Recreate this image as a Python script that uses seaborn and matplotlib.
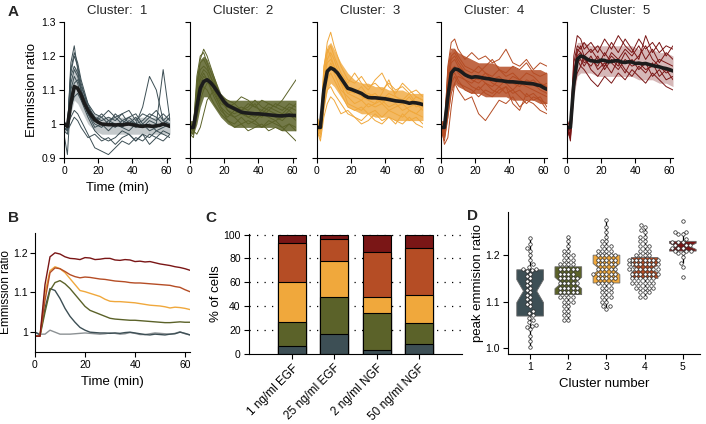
import numpy as np
import pandas as pd
import matplotlib
matplotlib.use('Agg')
import matplotlib.pyplot as plt
import seaborn as sns

# ---------------- data ----------------
cluster_names = ['1', '2', '3', '4', '5']
cluster_colors = ['#3d4f55', '#5b6229', '#f0a83c', '#b54d25', '#7a1616']

# single-cell traces (panel A), time in min
t_cell = [0, 2, 4, 6, 8, 10, 14, 18, 22, 26, 30, 34, 38, 42, 46, 50, 54, 58, 62]

c1_cells = [
    [0.99, 0.98, 1.18, 1.23, 1.16, 1.10, 1.04, 1.01, 1.02, 1.00, 1.03, 1.01, 1.02, 1.00, 1.01, 1.03, 1.02, 1.00, 1.02],
    [1.00, 0.99, 1.12, 1.16, 1.14, 1.10, 1.03, 1.00, 0.99, 1.01, 1.00, 0.99, 1.01, 1.00, 1.05, 1.14, 1.10, 1.01, 1.00],
    [0.98, 0.97, 1.05, 1.08, 1.09, 1.07, 1.02, 0.98, 0.96, 0.95, 0.96, 0.98, 0.97, 0.95, 0.97, 0.96, 0.98, 0.97, 0.96],
    [1.01, 0.99, 1.15, 1.20, 1.17, 1.12, 1.05, 1.02, 1.01, 1.02, 1.01, 1.03, 1.00, 1.02, 0.99, 1.01, 1.00, 1.16, 1.01],
    [0.99, 1.00, 1.02, 1.04, 1.03, 1.01, 0.97, 0.93, 0.92, 0.91, 0.93, 0.95, 0.94, 0.96, 0.95, 0.97, 0.96, 0.98, 0.97],
    [0.97, 0.91, 1.08, 1.12, 1.13, 1.10, 1.05, 1.02, 1.00, 1.00, 0.99, 1.01, 1.00, 0.99, 1.00, 0.98, 0.99, 1.00, 0.99],
    [1.00, 0.99, 1.14, 1.17, 1.15, 1.11, 1.06, 1.03, 1.02, 1.04, 1.02, 1.03, 1.04, 1.01, 1.03, 1.02, 1.04, 1.01, 1.03],
    [0.99, 0.98, 1.00, 1.02, 1.01, 0.99, 0.96, 0.97, 0.95, 0.96, 0.94, 0.96, 0.97, 0.95, 0.97, 0.94, 0.96, 0.95, 0.97],
    [1.00, 0.99, 1.10, 1.14, 1.12, 1.08, 1.03, 0.99, 1.00, 0.98, 1.00, 0.99, 0.98, 1.00, 0.99, 1.00, 0.98, 0.99, 1.00],
    [0.98, 0.99, 1.16, 1.21, 1.18, 1.13, 1.06, 1.01, 1.03, 1.01, 1.02, 1.00, 1.02, 1.03, 1.00, 1.02, 1.01, 1.03, 1.01],
]
c2_cells = [
    [0.99, 0.98, 1.10, 1.19, 1.22, 1.20, 1.14, 1.08, 1.06, 1.05, 1.04, 1.06, 1.05, 1.04, 1.06, 1.05, 1.04, 1.06, 1.05],
    [1.00, 0.99, 1.06, 1.12, 1.14, 1.13, 1.09, 1.05, 1.03, 1.02, 1.03, 1.02, 1.01, 1.03, 1.02, 1.01, 1.02, 1.03, 1.01],
    [0.98, 0.97, 1.02, 1.07, 1.10, 1.12, 1.12, 1.08, 1.04, 1.02, 1.00, 1.01, 1.00, 0.99, 1.01, 1.00, 0.99, 1.00, 0.98],
    [0.99, 0.99, 1.12, 1.18, 1.19, 1.17, 1.11, 1.06, 1.05, 1.06, 1.04, 1.05, 1.07, 1.05, 1.04, 1.06, 1.05, 1.04, 1.06],
    [1.01, 0.98, 0.97, 0.99, 1.03, 1.07, 1.10, 1.05, 1.01, 0.99, 1.00, 0.98, 0.99, 1.00, 0.98, 0.99, 0.98, 1.00, 0.99],
    [0.99, 1.00, 1.08, 1.14, 1.16, 1.15, 1.10, 1.07, 1.04, 1.03, 1.04, 1.02, 1.03, 1.02, 1.04, 1.03, 1.02, 1.04, 1.02],
    [0.97, 0.96, 1.04, 1.09, 1.11, 1.10, 1.06, 1.03, 1.01, 1.00, 1.02, 1.00, 1.01, 0.99, 1.00, 1.01, 0.99, 0.97, 0.95],
    [1.00, 0.99, 1.14, 1.20, 1.21, 1.18, 1.13, 1.08, 1.07, 1.06, 1.08, 1.07, 1.05, 1.07, 1.06, 1.05, 1.07, 1.10, 1.13],
    [0.99, 0.98, 1.07, 1.13, 1.15, 1.13, 1.08, 1.04, 1.02, 1.04, 1.03, 1.03, 1.02, 1.04, 1.03, 1.02, 1.01, 1.03, 1.02],
    [1.00, 0.98, 1.10, 1.16, 1.17, 1.16, 1.12, 1.07, 1.05, 1.04, 1.05, 1.04, 1.06, 1.03, 1.05, 1.04, 1.03, 1.05, 1.04],
]
c3_cells = [
    [0.99, 0.98, 1.16, 1.24, 1.27, 1.23, 1.17, 1.13, 1.12, 1.14, 1.11, 1.12, 1.10, 1.12, 1.10, 1.11, 1.09, 1.10, 1.08],
    [1.00, 0.98, 1.10, 1.16, 1.17, 1.15, 1.10, 1.08, 1.06, 1.07, 1.05, 1.06, 1.07, 1.05, 1.06, 1.04, 1.05, 1.06, 1.04],
    [0.98, 0.96, 1.05, 1.10, 1.11, 1.09, 1.06, 1.03, 1.02, 1.01, 1.03, 1.01, 1.00, 1.02, 1.01, 1.00, 1.02, 1.00, 0.99],
    [1.01, 0.99, 1.14, 1.21, 1.23, 1.20, 1.15, 1.12, 1.15, 1.12, 1.10, 1.13, 1.15, 1.11, 1.09, 1.12, 1.10, 1.08, 1.07],
    [0.99, 0.97, 1.08, 1.13, 1.15, 1.13, 1.09, 1.05, 1.04, 1.05, 1.03, 1.04, 1.02, 1.04, 1.03, 1.02, 1.04, 1.03, 1.02],
    [1.00, 0.99, 1.12, 1.19, 1.21, 1.19, 1.13, 1.09, 1.08, 1.07, 1.09, 1.08, 1.06, 1.08, 1.07, 1.06, 1.08, 1.05, 1.06],
    [0.98, 0.95, 1.02, 1.06, 1.08, 1.07, 1.03, 1.04, 1.02, 1.00, 1.01, 1.03, 1.01, 1.02, 1.00, 1.03, 1.01, 1.02, 1.00],
    [1.00, 0.98, 1.17, 1.22, 1.20, 1.17, 1.12, 1.10, 1.09, 1.11, 1.08, 1.09, 1.07, 1.09, 1.08, 1.07, 1.06, 1.08, 1.07],
    [0.99, 0.98, 1.09, 1.15, 1.18, 1.16, 1.12, 1.06, 1.05, 1.04, 1.06, 1.05, 1.06, 1.04, 1.05, 1.06, 1.04, 1.03, 1.05],
    [1.02, 1.00, 1.13, 1.18, 1.19, 1.17, 1.12, 1.09, 1.10, 1.08, 1.07, 1.06, 1.09, 1.13, 1.08, 1.07, 1.09, 1.06, 1.05],
]
c4_cells = [
    [0.99, 0.98, 1.17, 1.24, 1.25, 1.22, 1.19, 1.21, 1.19, 1.20, 1.18, 1.19, 1.22, 1.18, 1.17, 1.19, 1.16, 1.18, 1.17],
    [1.00, 0.97, 1.10, 1.16, 1.17, 1.15, 1.13, 1.12, 1.14, 1.12, 1.11, 1.13, 1.12, 1.10, 1.12, 1.11, 1.10, 1.09, 1.08],
    [0.98, 0.95, 1.02, 1.09, 1.12, 1.10, 1.07, 1.08, 1.03, 1.01, 1.04, 1.07, 1.06, 1.08, 1.05, 1.07, 1.06, 1.04, 1.03],
    [0.99, 0.99, 1.14, 1.20, 1.21, 1.19, 1.16, 1.15, 1.17, 1.15, 1.14, 1.16, 1.14, 1.15, 1.13, 1.15, 1.14, 1.12, 1.11],
    [1.00, 0.94, 0.96, 1.05, 1.12, 1.14, 1.13, 1.11, 1.10, 1.12, 1.10, 1.09, 1.11, 1.09, 1.10, 1.08, 1.09, 1.07, 1.06],
    [0.99, 0.98, 1.12, 1.18, 1.19, 1.17, 1.15, 1.14, 1.13, 1.15, 1.13, 1.14, 1.12, 1.14, 1.13, 1.12, 1.13, 1.11, 1.12],
    [0.98, 0.97, 1.08, 1.14, 1.15, 1.13, 1.10, 1.09, 1.11, 1.09, 1.08, 1.10, 1.11, 1.06, 1.04, 1.09, 1.07, 1.08, 1.05],
    [1.01, 0.99, 1.16, 1.22, 1.22, 1.20, 1.17, 1.16, 1.15, 1.17, 1.19, 1.16, 1.15, 1.17, 1.16, 1.18, 1.15, 1.14, 1.15],
    [0.99, 0.98, 1.13, 1.19, 1.20, 1.18, 1.15, 1.13, 1.12, 1.14, 1.12, 1.11, 1.13, 1.12, 1.11, 1.13, 1.12, 1.10, 1.09],
    [1.00, 0.96, 1.06, 1.12, 1.14, 1.12, 1.11, 1.10, 1.08, 1.10, 1.09, 1.11, 1.09, 1.10, 1.08, 1.06, 1.08, 1.07, 1.04],
]
c5_cells = [
    [0.99, 0.98, 1.20, 1.26, 1.25, 1.22, 1.24, 1.21, 1.25, 1.22, 1.26, 1.23, 1.21, 1.25, 1.22, 1.24, 1.21, 1.23, 1.22],
    [1.00, 0.96, 1.12, 1.18, 1.19, 1.17, 1.20, 1.16, 1.18, 1.15, 1.19, 1.16, 1.14, 1.17, 1.15, 1.18, 1.14, 1.16, 1.13],
    [0.98, 0.97, 1.15, 1.22, 1.21, 1.19, 1.17, 1.20, 1.16, 1.19, 1.17, 1.21, 1.18, 1.20, 1.23, 1.19, 1.17, 1.15, 1.16],
    [0.99, 0.95, 1.10, 1.15, 1.17, 1.16, 1.13, 1.11, 1.14, 1.12, 1.15, 1.13, 1.16, 1.14, 1.12, 1.15, 1.13, 1.11, 1.10],
    [1.01, 0.99, 1.18, 1.23, 1.22, 1.24, 1.21, 1.23, 1.20, 1.24, 1.21, 1.25, 1.22, 1.19, 1.26, 1.21, 1.24, 1.20, 1.23],
    [0.99, 0.97, 1.14, 1.20, 1.21, 1.18, 1.19, 1.17, 1.21, 1.18, 1.16, 1.19, 1.17, 1.18, 1.16, 1.17, 1.19, 1.18, 1.17],
    [1.00, 0.98, 1.16, 1.19, 1.17, 1.20, 1.16, 1.14, 1.17, 1.20, 1.18, 1.15, 1.19, 1.16, 1.18, 1.14, 1.16, 1.13, 1.14],
    [0.98, 0.96, 1.13, 1.21, 1.23, 1.20, 1.22, 1.19, 1.17, 1.21, 1.19, 1.22, 1.20, 1.23, 1.19, 1.22, 1.18, 1.21, 1.19],
]
all_cells = [c1_cells, c2_cells, c3_cells, c4_cells, c5_cells]

# envelope of the dense bundle of traces per cluster
band_lo = [
    [0.98, 0.97, 1.03, 1.07, 1.06, 1.04, 1.00, 0.98, 0.97, 0.97, 0.97, 0.97, 0.97, 0.97, 0.97, 0.97, 0.97, 0.97, 0.97],
    [0.97, 0.97, 1.00, 1.05, 1.08, 1.08, 1.05, 1.02, 1.00, 0.99, 0.99, 0.99, 0.99, 0.99, 0.99, 0.99, 0.98, 0.98, 0.98],
    [0.97, 0.97, 1.04, 1.10, 1.12, 1.11, 1.08, 1.05, 1.04, 1.03, 1.03, 1.02, 1.02, 1.02, 1.01, 1.01, 1.01, 1.01, 1.01],
    [0.97, 0.96, 1.02, 1.10, 1.12, 1.11, 1.10, 1.09, 1.09, 1.08, 1.08, 1.08, 1.08, 1.07, 1.07, 1.07, 1.07, 1.06, 1.06],
    [0.97, 0.96, 1.08, 1.14, 1.15, 1.15, 1.15, 1.14, 1.14, 1.14, 1.14, 1.14, 1.14, 1.13, 1.13, 1.13, 1.12, 1.12, 1.11],
]
band_hi = [
    [1.01, 1.00, 1.13, 1.17, 1.16, 1.12, 1.06, 1.03, 1.02, 1.02, 1.02, 1.02, 1.02, 1.02, 1.02, 1.02, 1.02, 1.02, 1.02],
    [1.01, 1.01, 1.15, 1.19, 1.20, 1.19, 1.14, 1.09, 1.07, 1.07, 1.07, 1.07, 1.07, 1.07, 1.07, 1.07, 1.07, 1.07, 1.07],
    [1.01, 1.01, 1.18, 1.23, 1.24, 1.22, 1.18, 1.15, 1.13, 1.12, 1.12, 1.11, 1.11, 1.10, 1.10, 1.10, 1.09, 1.09, 1.09],
    [1.01, 1.01, 1.18, 1.22, 1.22, 1.21, 1.20, 1.19, 1.18, 1.18, 1.18, 1.17, 1.17, 1.17, 1.16, 1.16, 1.16, 1.16, 1.15],
    [1.01, 1.01, 1.18, 1.24, 1.24, 1.24, 1.23, 1.23, 1.23, 1.23, 1.23, 1.23, 1.23, 1.22, 1.22, 1.22, 1.21, 1.21, 1.20],
]
band_alpha = [0.3, 0.85, 0.8, 0.85, 0.3]

# cluster mean traces (panel A thick line, panel B)
t_mean = list(range(0, 63, 2))
mean_c1 = [1.0, 0.993, 1.06, 1.11, 1.105, 1.085, 1.06, 1.04, 1.025, 1.012, 1.005, 1.0, 0.999, 0.998, 0.998, 0.997,
           0.998, 0.997, 0.999, 1.0, 0.998, 0.996, 0.994, 0.993, 0.995, 0.994, 0.993, 0.995, 0.996, 1.0, 0.997, 0.993]
mean_c2 = [0.99, 0.99, 1.05, 1.105, 1.125, 1.13, 1.122, 1.11, 1.095, 1.08, 1.065, 1.055, 1.05, 1.045, 1.04, 1.035,
           1.033, 1.032, 1.031, 1.03, 1.03, 1.029, 1.028, 1.027, 1.026, 1.025, 1.024, 1.024, 1.025, 1.026, 1.025, 1.025]
mean_c3 = [0.99, 0.99, 1.10, 1.155, 1.165, 1.16, 1.15, 1.135, 1.12, 1.105, 1.102, 1.098, 1.094, 1.09, 1.083, 1.078,
           1.077, 1.077, 1.076, 1.075, 1.074, 1.072, 1.07, 1.068, 1.067, 1.066, 1.064, 1.061, 1.063, 1.062, 1.06, 1.057]
mean_c4 = [0.99, 0.99, 1.08, 1.15, 1.162, 1.16, 1.153, 1.145, 1.14, 1.137, 1.139, 1.138, 1.136, 1.134, 1.133, 1.131,
           1.129, 1.128, 1.127, 1.125, 1.124, 1.124, 1.123, 1.122, 1.121, 1.12, 1.119, 1.118, 1.115, 1.113, 1.107, 1.102]
mean_c5 = [0.99, 0.99, 1.12, 1.19, 1.20, 1.197, 1.19, 1.186, 1.185, 1.183, 1.188, 1.187, 1.183, 1.184, 1.186, 1.186,
           1.182, 1.181, 1.183, 1.182, 1.178, 1.179, 1.177, 1.178, 1.175, 1.172, 1.17, 1.168, 1.165, 1.163, 1.16, 1.156]
mean_ctrl = [1.0, 0.995, 0.995, 1.005, 1.0, 0.995, 0.995, 0.995, 0.996, 0.997, 0.998, 0.997, 0.996, 0.995, 0.996, 0.998,
             0.997, 0.995, 0.996, 0.999, 0.997, 0.994, 0.994, 0.996, 0.998, 0.997, 0.996, 0.995, 0.997, 1.001, 0.996, 0.993]
all_means = [mean_c1, mean_c2, mean_c3, mean_c4, mean_c5]

# panel C: % of cells per cluster for each condition
conditions = ['1 ng/ml EGF', '25 ng/ml EGF', '2 ng/ml NGF', '50 ng/ml NGF']
pct_c1 = [6.5, 16.5, 3.5, 8.0]
pct_c2 = [20.0, 31.5, 30.5, 18.0]
pct_c3 = [33.5, 30.0, 14.0, 23.5]
pct_c4 = [33.0, 18.0, 37.5, 39.5]
pct_c5 = [7.0, 4.0, 14.5, 11.0]

# panel D: peak emission ratio per cell (value levels and number of cells at each level)
peak_levels_1 = [1.002, 1.015, 1.025, 1.04, 1.045, 1.048, 1.05, 1.055, 1.06, 1.065, 1.07, 1.075, 1.08, 1.09,
                 1.095, 1.10, 1.105, 1.11, 1.115, 1.12, 1.125, 1.13, 1.135, 1.14, 1.145, 1.15, 1.155, 1.16,
                 1.165, 1.168, 1.17, 1.175, 1.18, 1.19, 1.20, 1.21, 1.215, 1.225, 1.238]
peak_counts_1 = [1] * 30 + [2] + [1] * 8
peak_levels_2 = [1.06, 1.07, 1.08, 1.09, 1.10, 1.11, 1.12, 1.13, 1.14, 1.15, 1.16, 1.17, 1.18, 1.19, 1.20,
                 1.21, 1.22, 1.23, 1.24]
peak_counts_2 = [2, 2, 2, 2, 3, 4, 5, 5, 5, 5, 4, 5, 4, 3, 3, 2, 1, 1, 1]
peak_levels_3 = [1.085, 1.09, 1.10, 1.11, 1.12, 1.13, 1.14, 1.15, 1.16, 1.17, 1.18, 1.19, 1.20, 1.21, 1.22,
                 1.23, 1.24, 1.25, 1.26, 1.275]
peak_counts_3 = [1, 2, 2, 3, 3, 3, 4, 5, 6, 5, 5, 5, 5, 4, 3, 2, 1, 1, 1, 1]
peak_levels_4 = [1.11, 1.12, 1.13, 1.14, 1.15, 1.16, 1.17, 1.18, 1.19, 1.20, 1.21, 1.22, 1.23, 1.24, 1.25,
                 1.255, 1.26, 1.265]
peak_counts_4 = [2, 3, 5, 6, 6, 7, 8, 8, 8, 4, 3, 3, 2, 2, 1, 1, 1, 1]
peak_levels_5 = [1.153, 1.175, 1.183, 1.196, 1.205, 1.21, 1.216, 1.222, 1.228, 1.235, 1.245, 1.25, 1.273]
peak_counts_5 = [1, 1, 1, 1, 2, 3, 3, 3, 3, 1, 2, 2, 1]
peak_levels = [peak_levels_1, peak_levels_2, peak_levels_3, peak_levels_4, peak_levels_5]
peak_counts = [peak_counts_1, peak_counts_2, peak_counts_3, peak_counts_4, peak_counts_5]

# ---------------- style ----------------
sns.set_theme(style='ticks')
plt.rcParams['font.family'] = ['Liberation Sans', 'DejaVu Sans']
plt.rcParams.update({
    'axes.linewidth': 0.8, 'axes.edgecolor': 'black',
    'xtick.major.size': 3.5, 'ytick.major.size': 3.5,
    'xtick.major.width': 0.8, 'ytick.major.width': 0.8,
    'xtick.labelsize': 7.5, 'ytick.labelsize': 7.5,
    'xtick.color': 'black', 'ytick.color': 'black',
    'axes.labelsize': 9.5, 'axes.labelcolor': 'black',
    'xtick.major.pad': 2.5, 'ytick.major.pad': 2.5,
})

fig = plt.figure(figsize=(7.06, 4.24), dpi=100)
W, H = 706.0, 424.0


def add_ax(x0, x1, ytop, ybot):
    return fig.add_axes([x0 / W, 1 - ybot / H, (x1 - x0) / W, (ybot - ytop) / H])


# ---------------- panel A ----------------
cell_rows = []
for k, cells in enumerate(all_cells):
    for j, vals in enumerate(cells):
        for t, v in zip(t_cell, vals):
            cell_rows.append({'cluster': cluster_names[k], 'cell': j, 'time': t, 'ratio': v})
cells_df = pd.DataFrame(cell_rows)

a_left = [64, 190, 317, 441, 567]
for k in range(5):
    ax = add_ax(a_left[k], a_left[k] + 106, 22, 158)
    col = cluster_colors[k]
    ax.fill_between(t_cell, band_lo[k], band_hi[k], color=col, alpha=band_alpha[k], lw=0)
    sub = cells_df[cells_df['cluster'] == cluster_names[k]]
    sns.lineplot(data=sub, x='time', y='ratio', units='cell', estimator=None,
                 color=col, lw=0.7, ax=ax, legend=False)
    sns.lineplot(x=t_mean, y=all_means[k], color='#1c1c1c', lw=2.6, ax=ax)
    ax.set_xlim(0, 62)
    ax.set_ylim(0.9, 1.3)
    ax.set_xticks([0, 20, 40, 60])
    ax.set_yticks([0.9, 1.0, 1.1, 1.2, 1.3])
    if k == 0:
        ax.set_yticklabels(['0.9', '1', '1.1', '1.2', '1.3'])
        ax.set_ylabel('Emmission ratio', labelpad=2)
        ax.set_xlabel('Time (min)')
    else:
        ax.set_yticklabels([])
        ax.set_ylabel('')
        ax.set_xlabel('')
    ax.set_title('Cluster:  ' + cluster_names[k], fontsize=9.5, pad=6)
    sns.despine(ax=ax)

# ---------------- panel B ----------------
axB = add_ax(35, 190, 233, 352)
sns.lineplot(x=t_mean, y=mean_ctrl, color='#8c9194', lw=1.0, ax=axB)
for k in range(5):
    sns.lineplot(x=t_mean, y=all_means[k], color=cluster_colors[k], lw=1.0, ax=axB)
axB.set_xlim(0, 62)
axB.set_ylim(0.95, 1.25)
axB.set_xticks([0, 20, 40, 60])
axB.set_yticks([1.0, 1.1, 1.2])
axB.set_yticklabels(['1', '1.1', '1.2'])
axB.tick_params(axis='y', pad=1.5)
axB.set_xlabel('Time (min)')
axB.set_ylabel('Emmission ratio', fontsize=8.5)
axB.yaxis.set_label_coords(-23 / 155, 0.5)
sns.despine(ax=axB)

# ---------------- panel C ----------------
axC = add_ax(249, 462, 234, 354)
for y in [20, 40, 60, 80, 100]:
    axC.axhline(y, color='black', ls=(0, (1, 5)), lw=0.9, zorder=0)
layers = [pct_c1, pct_c2, pct_c3, pct_c4, pct_c5]
cum = np.cumsum(np.array(layers), axis=0)
for k in range(4, -1, -1):
    sns.barplot(x=conditions, y=cum[k], color=cluster_colors[k], edgecolor='black',
                linewidth=0.8, width=0.66, saturation=1, ax=axC, zorder=2)
axC.set_xlim(-1.02, 4.02)
axC.set_ylim(0, 100.5)
axC.set_yticks([0, 20, 40, 60, 80, 100])
axC.set_ylabel('% of cells', labelpad=1)
axC.tick_params(axis='x', labelrotation=45, labelsize=8.5)
for lab in axC.get_xticklabels():
    lab.set_ha('right')
    lab.set_rotation_mode('anchor')
sns.despine(ax=axC)

# ---------------- panel D ----------------
peak_rows = []
for k in range(5):
    for lv, n in zip(peak_levels[k], peak_counts[k]):
        for _ in range(n):
            peak_rows.append({'cluster': cluster_names[k], 'peak': lv})
peak_df = pd.DataFrame(peak_rows)

axD = add_ax(508, 700, 212, 354)
sns.boxplot(data=peak_df, x='cluster', y='peak', hue='cluster', order=cluster_names,
            palette=cluster_colors, notch=True, showcaps=False, showfliers=False,
            width=0.7, saturation=1, legend=False, ax=axD,
            boxprops=dict(edgecolor='#6a6a6a', linewidth=0.6),
            whiskerprops=dict(color='black', linewidth=0.9),
            medianprops=dict(linewidth=0))
sns.swarmplot(data=peak_df, x='cluster', y='peak', order=cluster_names, color='white',
              edgecolor='#202020', linewidth=0.5, size=2.5, ax=axD, warn_thresh=1)
axD.set_xlim(-0.58, 4.45)
axD.set_ylim(0.987, 1.293)
axD.set_yticks([1.0, 1.1, 1.2])
axD.set_yticklabels(['1.0', '1.1', '1.2'])
axD.set_xlabel('Cluster number')
axD.set_ylabel('peak emmision ratio', labelpad=1)
sns.despine(ax=axD)

# panel letters
for letter, x, y in [('A', 8, 12), ('B', 8, 218), ('C', 205, 218), ('D', 467, 216)]:
    fig.text(x / W, 1 - y / H, letter, fontsize=11, fontweight='bold', va='center', ha='left')

fig.savefig('out.png', dpi=100)
